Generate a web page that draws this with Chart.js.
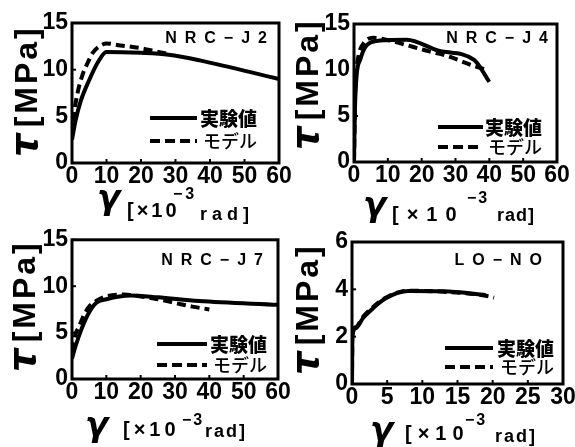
<!DOCTYPE html>
<html><head><meta charset="utf-8">
<script src="https://cdn.jsdelivr.net/npm/chart.js@4.4.1/dist/chart.umd.min.js"></script>
<style>
html,body{margin:0;padding:0;background:#fff;width:575px;height:447px;overflow:hidden;position:relative;}
canvas{position:absolute;}
.name{position:absolute;font-family:"Liberation Sans",Arial,sans-serif;font-weight:bold;font-size:16px;letter-spacing:8px;color:#000;white-space:nowrap;line-height:16px;}
.lt{position:absolute;font-family:"Noto Sans CJK JP",sans-serif;font-size:19px;color:#000;white-space:nowrap;line-height:19px;}
.ln{position:absolute;height:4px;}
.xt{position:absolute;white-space:nowrap;color:#000;font-family:"Liberation Sans",Arial,sans-serif;font-weight:bold;}
.yt{position:absolute;white-space:nowrap;color:#000;font-family:"Liberation Sans",Arial,sans-serif;font-weight:bold;font-size:32px;line-height:32px;letter-spacing:3px;transform:rotate(-90deg);transform-origin:0 0;}
.yt .tau{font-family:"DejaVu Sans",sans-serif;font-style:italic;font-size:37px;line-height:0;letter-spacing:6px;}
</style></head><body>
<script>
// ---- data ----
const seriesNames = ['実験値', 'モデル'];
const panelNames = ['NRC−J2', 'NRC−J4', 'NRC−J7', 'LO−NO'];

const j2ExpX = [0, 1, 2.5, 5, 7.5, 10, 20, 28, 37, 60];
const j2ExpY = [2.5, 4.5, 6.6, 8.9, 10.8, 11.9, 11.8, 11.6, 11.0, 9.0];
const j2ModX = [0, 0.5, 1.5, 3, 4.5, 6, 8, 10, 14, 20, 25, 28];
const j2ModY = [3, 5, 7.3, 9.4, 10.7, 11.8, 12.5, 12.8, 12.6, 12.3, 11.9, 11.7];

const j4ExpX = [0, 0.3, 0.8, 1.8, 3.8, 7.7, 15.6, 25, 35.5, 40];
const j4ExpY = [0, 6, 9.5, 11.1, 12.7, 13.2, 13.3, 12.1, 11.1, 8.7];
const j4ModX = [0, 0.3, 0.8, 1.5, 3, 5.6, 10.6, 15.6, 19.5, 22.5, 27, 35, 38.5];
const j4ModY = [0, 7, 10.2, 11.8, 13.0, 13.5, 13.2, 12.7, 12.3, 12.0, 11.6, 10.5, 10.1];

const j7ExpX = [0, 1, 3, 5, 7, 10, 17, 25, 37, 60];
const j7ExpY = [2.2, 3.5, 5.6, 7.2, 8.2, 8.6, 9.0, 8.8, 8.4, 8.0];
const j7ModX = [0, 1, 2, 3.5, 5, 7, 10, 15, 20, 25, 30, 35, 40];
const j7ModY = [3, 4.8, 5.6, 6.9, 7.8, 8.4, 8.9, 9.1, 8.9, 8.6, 8.2, 7.8, 7.5];

const loExpX = [0, 0.05, 0.5, 1.6, 3, 4, 5, 6.4, 8, 13, 19];
const loExpY = [0, 2.0, 2.35, 2.8, 3.2, 3.46, 3.65, 3.84, 3.93, 3.92, 3.76];
const loModX = [0, 0.05, 0.5, 1.6, 3, 4, 5, 6.4, 8, 13, 19.6, 20.2];
const loModY = [0, 2.1, 2.4, 2.85, 3.25, 3.5, 3.68, 3.86, 3.94, 3.9, 3.7, 3.65];

const xMax = [60, 60, 60, 30];
const xStep = [10, 10, 10, 5];
const yMax = [15, 15, 15, 6];
const yStep = [5, 5, 5, 2];

// ---- layout (pixel placement only) ----
const layout = [
  {area:[72,23,279,163], x0:0,   y0:0,   w:300, h:222,
   yt:[10,157], name:[267,32], leg:[150,197,118,141,200,203],
   xt:{g:[97,190], br:[127,203,3], sup:[173,188,3], rad:[200,207,5]}},
  {area:[354,24,557,162], x0:285, y0:0,  w:300, h:222,
   yt:[291,150], name:[548,32], leg:[438,483,127,147,485,488],
   xt:{g:[363,197], br:[392,207,8], sup:[467,192,2], rad:[497,208,1]}},
  {area:[72,238,278,379], x0:0,  y0:222, w:300, h:225,
   yt:[8,372], name:[263,254], leg:[157,207,344,365,210,213],
   xt:{g:[85,417], br:[123,422,4], sup:[182,414,2], rad:[205,424,2]}},
  {area:[352,242,563,384], x0:288, y0:222, w:300, h:225,
   yt:[291,375], name:[542,254], leg:[445,493,348,367,497,500],
   xt:{g:[370,422], br:[405,426,6], sup:[465,414,2], rad:[495,429,2]}}
];
const data = [
  [j2ExpX, j2ExpY, j2ModX, j2ModY],
  [j4ExpX, j4ExpY, j4ModX, j4ModY],
  [j7ExpX, j7ExpY, j7ModX, j7ModY],
  [loExpX, loExpY, loModX, loModY]
];

const framePlugin = {
  id: 'frame',
  afterDatasetsDraw(chart) {
    const {ctx, chartArea: a, scales: {x, y}} = chart;
    ctx.save();
    ctx.strokeStyle = '#000';
    ctx.lineWidth = 2;
    x.ticks.forEach(t => { const p = x.getPixelForValue(t.value); ctx.beginPath(); ctx.moveTo(p, a.bottom); ctx.lineTo(p, a.bottom - 4); ctx.stroke(); });
    y.ticks.forEach(t => { const p = y.getPixelForValue(t.value); ctx.beginPath(); ctx.moveTo(a.left, p); ctx.lineTo(a.left + 4, p); ctx.stroke(); });
    ctx.lineWidth = 3;
    ctx.strokeRect(a.left, a.top, a.right - a.left, a.bottom - a.top);
    ctx.restore();
  }
};

function el(cls, txt, css) {
  const d = document.createElement('div');
  d.className = cls;
  if (txt !== null) d.textContent = txt;
  Object.assign(d.style, css);
  document.body.appendChild(d);
  return d;
}

layout.forEach((L, i) => {
  const [l, t, r, b] = L.area;
  const cv = document.createElement('canvas');
  cv.style.left = L.x0 + 'px'; cv.style.top = L.y0 + 'px';
  cv.style.width = L.w + 'px'; cv.style.height = L.h + 'px';
  cv.width = L.w; cv.height = L.h;
  document.body.appendChild(cv);
  const [ex, ey, mx, my] = data[i];
  const tickFont = {family: 'Liberation Sans', size: 23, weight: 'bold'};
  new Chart(cv.getContext('2d'), {
    type: 'line',
    data: {
      datasets: [
        {label: seriesNames[1], data: mx.map((v, k) => ({x: v, y: my[k]})), borderColor: '#000', borderWidth: 4, borderDash: [9, 5], pointRadius: 0, cubicInterpolationMode: 'monotone', fill: false},
        {label: seriesNames[0], data: ex.map((v, k) => ({x: v, y: ey[k]})), borderColor: '#000', borderWidth: 4, pointRadius: 0, cubicInterpolationMode: 'monotone', fill: false}
      ]
    },
    options: {
      responsive: false, animation: false, events: [],
      layout: {padding: {left: 0, top: t - L.y0, right: L.x0 + L.w - r, bottom: 0}},
      plugins: {legend: {display: false}, tooltip: {enabled: false}, title: {display: false}},
      scales: {
        x: {
          type: 'linear', min: 0, max: xMax[i],
          grid: {display: false, drawTicks: false}, border: {display: false},
          ticks: {stepSize: xStep[i], color: '#000', font: tickFont, padding: 0, maxRotation: 0, autoSkip: false},
          afterFit: s => { s.height = L.y0 + L.h - b; }
        },
        y: {
          type: 'linear', min: 0, max: yMax[i],
          grid: {display: false, drawTicks: false}, border: {display: false},
          ticks: {stepSize: yStep[i], color: '#000', font: tickFont, padding: 4},
          afterFit: s => { s.width = l - L.x0; }
        }
      }
    },
    plugins: [framePlugin]
  });

  // y title (rotated)
  const yt = el('yt', null, {left: L.yt[0] + 'px', top: L.yt[1] + 'px'});
  const tau = document.createElement('span'); tau.className = 'tau'; tau.textContent = 'τ';
  yt.appendChild(tau);
  yt.appendChild(document.createTextNode('[MPa]'));

  // panel name
  el('name', panelNames[i], {right: (575 - L.name[0] - 8) + 'px', top: (L.name[1] - 2) + 'px'});

  // legend
  const [x1, x2, ys, yd, tx1, tx2] = L.leg;
  el('ln', null, {left: x1 + 'px', top: (ys - 2) + 'px', width: (x2 - x1) + 'px', background: '#000'});
  el('ln', null, {left: x1 + 'px', top: (yd - 2) + 'px', width: (x2 - x1) + 'px', background: 'repeating-linear-gradient(to right,#000 0 10px,transparent 10px 15px)'});
  el('lt', seriesNames[0], {left: tx1 + 'px', top: (ys - 10) + 'px', fontWeight: '900'});
  el('lt', seriesNames[1], {left: tx2 + 'px', top: (yd - 10) + 'px', fontWeight: '500', fontSize: '18px'});

  // x title
  const X = L.xt;
  el('xt', 'γ', {left: X.g[0] + 'px', top: (X.g[1] - 10) + 'px', fontFamily: '"DejaVu Sans",sans-serif', fontStyle: 'italic', fontSize: '34px', lineHeight: '34px'});
  el('xt', '[×10', {left: X.br[0] + 'px', top: (X.br[1] - 3) + 'px', fontSize: '20px', lineHeight: '20px', letterSpacing: X.br[2] + 'px'});
  el('xt', '−3', {left: X.sup[0] + 'px', top: (X.sup[1] - 2) + 'px', fontSize: '16px', lineHeight: '16px', letterSpacing: X.sup[2] + 'px'});
  el('xt', 'rad]', {left: X.rad[0] + 'px', top: (X.rad[1] - 2) + 'px', fontSize: '18px', lineHeight: '18px', letterSpacing: X.rad[2] + 'px'});
});
</script>
</body></html>
